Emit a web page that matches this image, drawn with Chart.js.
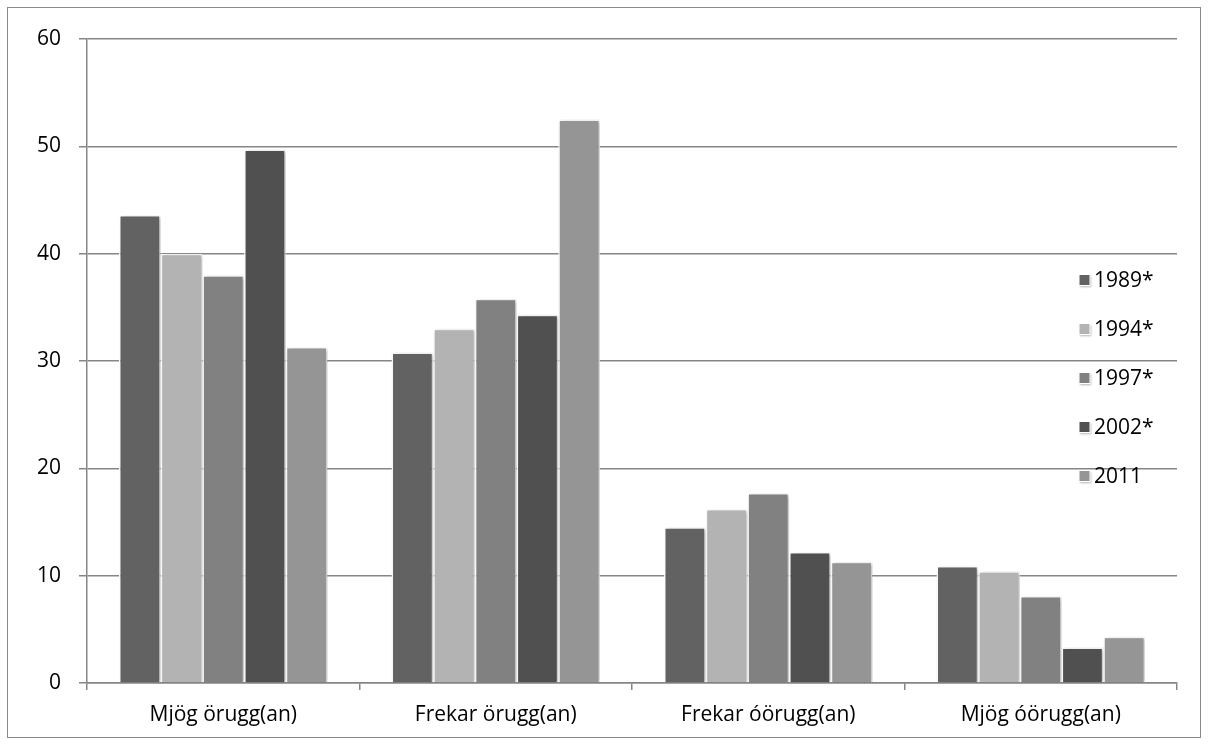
<!DOCTYPE html>
<html>
<head>
<meta charset="utf-8">
<script src="https://cdn.jsdelivr.net/npm/chart.js@4/dist/chart.umd.min.js"></script>
<style>
  html, body { margin: 0; padding: 0; background: #fff; }
  #box {
    position: absolute; left: 7px; top: 7px;
    width: 1192px; height: 729px;
    border: 1px solid #8a8a8a;
  }
</style>
</head>
<body>
<div id="box"><canvas id="chart" width="1192" height="729"></canvas></div>
<script>
const categories = ['Mjög örugg(an)', 'Frekar örugg(an)', 'Frekar óörugg(an)', 'Mjög óörugg(an)'];
const seriesNames = ['1989*', '1994*', '1997*', '2002*', '2011'];
const seriesColors = ['#626262', '#b3b3b3', '#818181', '#505050', '#959595'];
const v1989 = [43.6, 30.8, 14.5, 10.9];
const v1994 = [40.0, 33.0, 16.2, 10.4];
const v1997 = [38.0, 35.8, 17.7, 8.1];
const v2002 = [49.7, 34.3, 12.2, 3.3];
const v2011 = [31.3, 52.5, 11.3, 4.3];
const yTicks = [0, 10, 20, 30, 40, 50, 60];

const allValues = [v1989, v1994, v1997, v2002, v2011];
const FONT = '"Open Sans", sans-serif';

// soft shadow behind the bars, like the original
const barShadow = {
    id: 'barShadow',
    beforeDatasetsDraw(chart) {
        const ctx = chart.ctx;
        ctx.save();
        ctx.shadowColor = 'rgba(0,0,0,0.28)';
        ctx.shadowBlur = 4;
        ctx.shadowOffsetX = 2;
        ctx.shadowOffsetY = 1;
    },
    afterDatasetsDraw(chart) {
        chart.ctx.restore();
    }
};

// legend drawn on top of the plot area, at the right
const sideLegend = {
    id: 'sideLegend',
    afterDraw(chart) {
        const ctx = chart.ctx;
        const x = 1071, y0 = 272, step = 49, size = 11;
        ctx.save();
        ctx.font = '21px ' + FONT;
        ctx.textBaseline = 'middle';
        chart.data.datasets.forEach((ds, i) => {
            const y = y0 + i * step;
            ctx.shadowColor = 'rgba(0,0,0,0.3)';
            ctx.shadowBlur = 2;
            ctx.shadowOffsetX = 1;
            ctx.shadowOffsetY = 1;
            ctx.fillStyle = ds.backgroundColor;
            ctx.fillRect(x, y - size / 2, size, size);
            ctx.shadowColor = 'transparent';
            ctx.strokeStyle = '#fff';
            ctx.lineWidth = 1;
            ctx.strokeRect(x, y - size / 2, size, size);
            ctx.fillStyle = '#000';
            ctx.fillText(ds.label, x + 15, y + 1);
        });
        ctx.restore();
    }
};

new Chart(document.getElementById('chart'), {
    type: 'bar',
    data: {
        labels: categories,
        datasets: seriesNames.map((name, i) => ({
            label: name,
            data: allValues[i],
            backgroundColor: seriesColors[i],
            borderColor: '#ffffff',
            borderWidth: 1.5,
            categoryPercentage: 0.765,
            barPercentage: 1.0
        }))
    },
    options: {
        responsive: false,
        animation: false,
        devicePixelRatio: 1,
        layout: { padding: { left: 0, top: 31, right: 23, bottom: 0 } },
        plugins: {
            legend: { display: false },
            tooltip: { enabled: false }
        },
        scales: {
            x: {
                grid: { drawOnChartArea: false, drawTicks: true, tickLength: 7, color: '#868686', lineWidth: 1.5 },
                border: { color: '#868686', width: 1.5 },
                ticks: { color: '#000', font: { family: FONT, size: 21 }, padding: 12, maxRotation: 0 },
                afterFit: s => { s.height = 54; }
            },
            y: {
                min: 0,
                max: 60,
                afterBuildTicks: s => { s.ticks = yTicks.map(v => ({ value: v })); },
                grid: { color: '#868686', lineWidth: 1.5, tickLength: 8 },
                border: { color: '#868686', width: 1.5 },
                ticks: { color: '#000', font: { family: FONT, size: 21 }, padding: 18 },
                afterFit: s => { s.width = 79; }
            }
        }
    },
    plugins: [barShadow, sideLegend]
});
</script>
</body>
</html>
